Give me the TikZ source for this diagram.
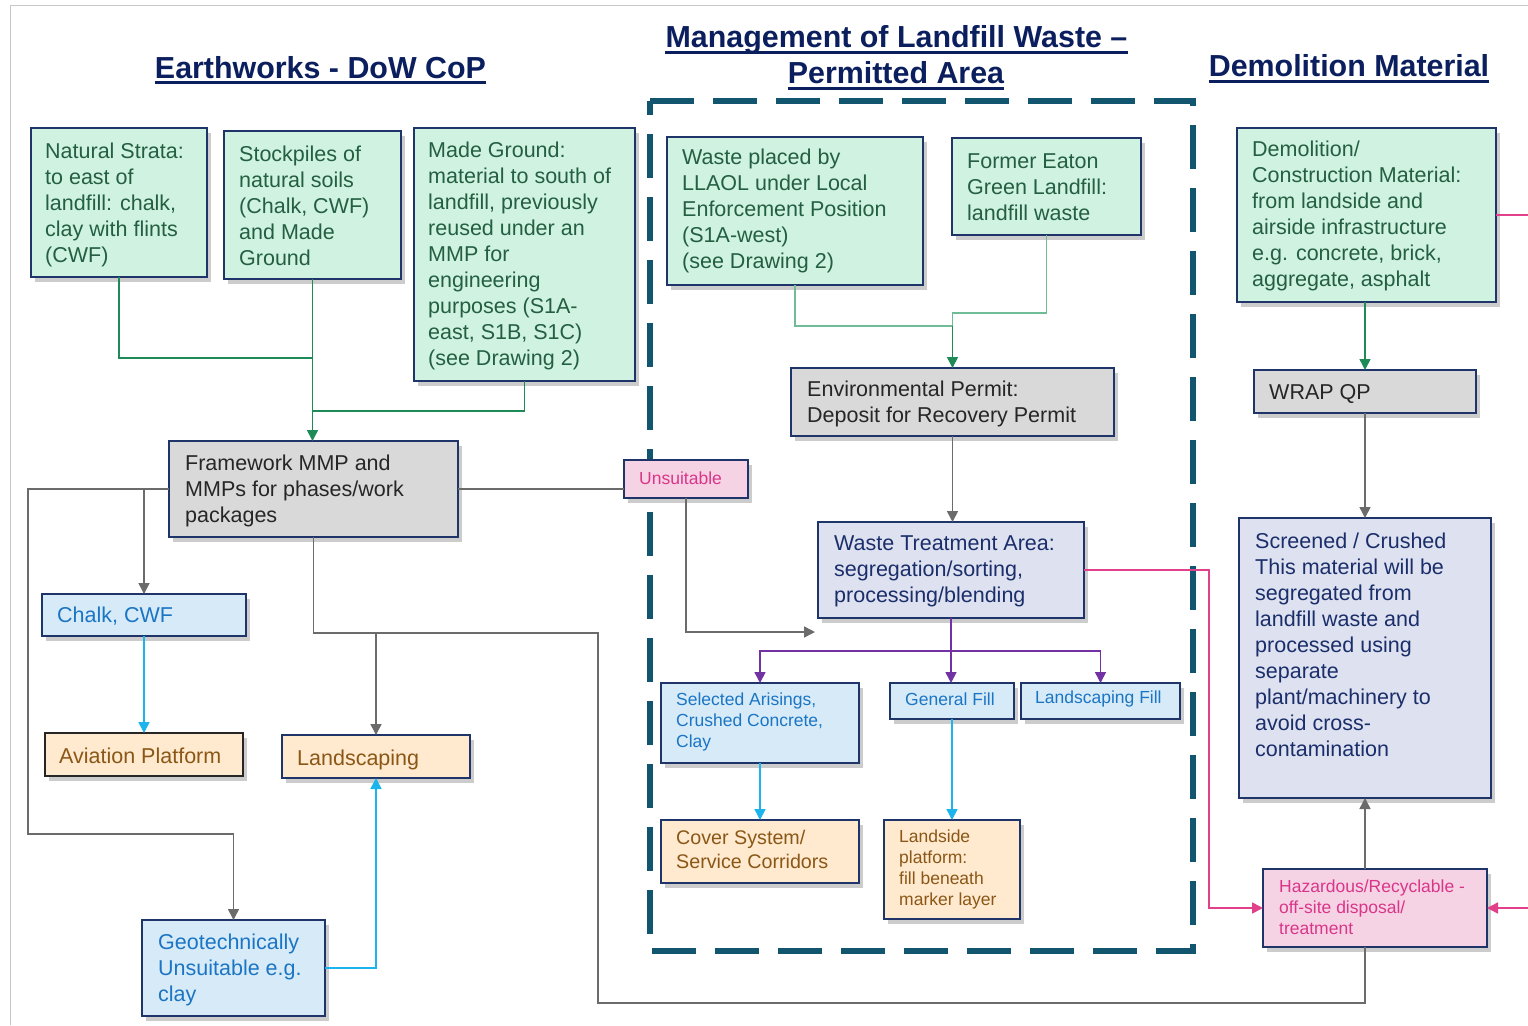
\documentclass[tikz,border=0pt]{standalone}
\usepackage{fontspec}
\setmainfont{Liberation Sans}
\usetikzlibrary{arrows.meta,shadows,calc}
\definecolor{navy}{HTML}{1F3468}
\definecolor{ttlc}{HTML}{0B1F5E}
\definecolor{gfill}{HTML}{CFF2E1}
\definecolor{gtext}{HTML}{245F42}
\definecolor{grfill}{HTML}{D9D9D9}
\definecolor{grtext}{HTML}{262626}
\definecolor{bfill}{HTML}{D6EBF7}
\definecolor{btext}{HTML}{1B75C4}
\definecolor{ofill}{HTML}{FFE9CF}
\definecolor{otext}{HTML}{8A5716}
\definecolor{lfill}{HTML}{DEE1F0}
\definecolor{ltext}{HTML}{1A2E6A}
\definecolor{pfill}{HTML}{F6D3E4}
\definecolor{ptext}{HTML}{D9368A}
\definecolor{dashc}{HTML}{11566E}
\definecolor{cgreen}{HTML}{1E8A58}
\definecolor{lgreen}{HTML}{6FBC97}
\definecolor{cgray}{HTML}{6B6B6B}
\definecolor{ccyan}{HTML}{1CB4EC}
\definecolor{cpurple}{HTML}{7232A3}
\definecolor{cpink}{HTML}{E0418A}
\tikzset{
  box/.style={draw=navy, line width=1.6pt, rectangle, anchor=north west, inner sep=0pt, outer sep=0pt,
    drop shadow={shadow xshift=4pt, shadow yshift=-5pt, fill=black, opacity=0.2}},
  gbox/.style={box, fill=gfill},
  grbox/.style={box, fill=grfill},
  bbox/.style={box, fill=bfill},
  obox/.style={box, fill=ofill},
  lbox/.style={box, fill=lfill},
  pbox/.style={box, fill=pfill},
  big/.style={font=\fontsize{21.5}{26}\selectfont, align=left, inner sep=0pt, anchor=west},
  mid/.style={font=\fontsize{19.7}{24}\selectfont, align=left, inner sep=0pt, anchor=west},
  small/.style={font=\fontsize{17.5}{21}\selectfont, align=left, inner sep=0pt, anchor=west},
  ttl/.style={font=\fontsize{30.4}{36}\selectfont\bfseries, text=ttlc, inner sep=0pt, anchor=base},
  con/.style={line width=1.6pt},
  tip/.style={-{Triangle[length=11pt,width=11pt]}},
  gcon/.style={con, draw=cgreen},
  lgcon/.style={con, draw=lgreen},
  gycon/.style={con, draw=cgray},
  cycon/.style={con, draw=ccyan},
  pucon/.style={con, draw=cpurple},
  pkcon/.style={con, draw=cpink},
}
\begin{document}
\begin{tikzpicture}[x=1pt,y=-1pt]
\useasboundingbox (0,0) rectangle (1528,1025);
\fill[white] (0,0) rectangle (1528,1025);
\draw[black!22, line width=1pt] (10,1025) -- (10,6) -- (1528,6);

% titles
\node[ttl] (t1) at (320.5,78) {Earthworks - DoW CoP};
\node[ttl] (t2a) at (896.5,48) {Management of Landfill Waste –};
\node[ttl] (t2b) at (896,84) {Permitted Area};
\node[ttl] (t3) at (1349,77) {Demolition Material};
\foreach \t in {t1,t2a,t2b,t3}
  \draw[ttlc, line width=2.6pt] ([yshift=-4.5pt]\t.base west) -- ([yshift=-4.5pt]\t.base east);

% dashed permitted area
\draw[dashc, line width=6pt, dash pattern=on 44pt off 19pt] (650,101) -- (1193,101) -- (1193,951) -- (650,951) -- cycle;

% boxes
\node[gbox, minimum width=176pt, minimum height=149pt] (ns) at (31,128) {};
\node[gbox, minimum width=177pt, minimum height=148pt] (sp) at (224,131) {};
\node[gbox, minimum width=221pt, minimum height=253pt] (mg) at (414,128) {};
\node[gbox, minimum width=256pt, minimum height=148pt] (wp) at (667,137) {};
\node[gbox, minimum width=189pt, minimum height=97pt] (fe) at (952,138) {};
\node[gbox, minimum width=259pt, minimum height=174pt] (dm) at (1237,128) {};
\node[grbox, minimum width=323pt, minimum height=68pt] (ep) at (791,368) {};
\node[grbox, minimum width=222pt, minimum height=43pt] (wr) at (1254,370) {};
\node[grbox, minimum width=289pt, minimum height=96pt] (fw) at (169,441) {};
\node[pbox, minimum width=124pt, minimum height=38pt] (un) at (624,460) {};
\node[lbox, minimum width=266pt, minimum height=96pt] (wt) at (818,522) {};
\node[lbox, minimum width=252pt, minimum height=280pt] (sc) at (1239,518) {};
\node[bbox, minimum width=204pt, minimum height=42pt] (ck) at (42,594) {};
\node[obox, draw=black!85, minimum width=198pt, minimum height=43pt] (av) at (45,733) {};
\node[obox, minimum width=188pt, minimum height=43pt] (ls) at (282,735) {};
\node[bbox, minimum width=198pt, minimum height=80pt] (sa) at (661,683) {};
\node[bbox, minimum width=124pt, minimum height=36pt] (gf) at (890,683) {};
\node[bbox, minimum width=159pt, minimum height=36pt] (lf) at (1021,683) {};
\node[obox, minimum width=198pt, minimum height=63pt] (cv) at (661,820) {};
\node[obox, minimum width=136pt, minimum height=99pt] (lp) at (884,820) {};
\node[bbox, minimum width=183pt, minimum height=96pt] (geo) at (142,920) {};
\node[pbox, minimum width=224pt, minimum height=78pt] (hz) at (1263,869) {};

% texts
\node[big, text=gtext] (nst) at ($(ns.west)+(14,2)$) {Natural Strata:\\to east of\\landfill: chalk,\\clay with flints\\(CWF)};
\node[big, text=gtext] (spt) at ($(sp.west)+(15,1)$) {Stockpiles of\\natural soils\\(Chalk, CWF)\\and Made\\Ground};
\node[big, text=gtext] (mgt) at ($(mg.west)+(14,1)$) {Made Ground:\\material to south of\\landfill, previously\\reused under an\\MMP for\\engineering\\purposes (S1A-\\east, S1B, S1C)\\(see Drawing 2)};
\node[big, text=gtext] (wpt) at ($(wp.west)+(15,0)$) {Waste placed by\\LLAOL under Local\\Enforcement Position\\(S1A-west)\\(see Drawing 2)};
\node[big, text=gtext] (fet) at ($(fe.west)+(15,1)$) {Former Eaton\\Green Landfill:\\landfill waste};
\node[big, text=gtext] (dmt) at ($(dm.west)+(15,1)$) {Demolition/\\Construction Material:\\from landside and\\airside infrastructure\\e.g. concrete, brick,\\aggregate, asphalt};
\node[big, text=grtext] (ept) at ($(ep.west)+(16,2)$) {Environmental Permit:\\Deposit for Recovery Permit};
\node[big, text=grtext] (wrt) at ($(wr.west)+(15,3)$) {WRAP QP};
\node[big, text=grtext] (fwt) at ($(fw.west)+(16,1.5)$) {Framework MMP and\\MMPs for phases/work\\packages};
\node[small, text=ptext] (unt) at ($(un.west)+(15,-1)$) {Unsuitable};
\node[big, text=ltext] (wtt) at ($(wt.west)+(16,1)$) {Waste Treatment Area:\\segregation/sorting,\\processing/blending};
\node[big, text=ltext, anchor=north west] (sct) at ($(sc.north west)+(16,15)$) {Screened / Crushed\\This material will be\\segregated from\\landfill waste and\\processed using\\separate\\plant/machinery to\\avoid cross-\\contamination};
\node[big, text=btext] (ckt) at ($(ck.west)+(15,1)$) {Chalk, CWF};
\node[big, text=otext] (avt) at ($(av.west)+(14,1)$) {Aviation Platform};
\node[big, text=otext] (lst) at ($(ls.west)+(15,3)$) {Landscaping};
\node[small, text=btext] (sat) at ($(sa.west)+(15,-1)$) {Selected Arisings,\\Crushed Concrete,\\Clay};
\node[small, text=btext] (gft) at ($(gf.west)+(15,-2)$) {General Fill};
\node[small, text=btext] (lft) at ($(lf.west)+(14,-2)$) {Landscaping Fill};
\node[mid, text=otext] (cvt) at ($(cv.west)+(15,-2)$) {Cover System/\\Service Corridors};
\node[small, text=otext] (lpt) at ($(lp.west)+(15,0)$) {Landside\\platform:\\fill beneath\\marker layer};
\node[big, text=btext] (geot) at ($(geo.west)+(16,1.5)$) {Geotechnically\\Unsuitable e.g.\\clay};
\node[small, text=ptext] (hzt) at ($(hz.west)+(16,-1)$) {Hazardous/Recyclable -\\off-site disposal/\\treatment};

% junction coordinates
\coordinate (j1) at (313,358);
\coordinate (j2) at (313,411);
\coordinate (j3) at ($(ep.north)+(0,-42)$);
\coordinate (j4) at ($(ep.north)+(0,-55)$);
\coordinate (f2) at (28,834);
\coordinate (f3) at (313.5,633);
\coordinate (f4) at (598,633);
\coordinate (f5) at (598,1003);
\coordinate (f6) at (1365,1003);
\coordinate (f7) at (376,633);
\coordinate (u2) at (815,632);
\coordinate (p1) at (951,651);
\coordinate (k2) at (1209,908);
\coordinate (r1) at (1528,215);
\coordinate (r2) at (1528,908);

% green connectors
\draw[gcon] (ns.south) |- (j1);
\draw[gcon] (mg.south) |- (j2);
\draw[gcon, tip] (sp.south) -- (sp.south |- fw.north);
\draw[lgcon] (wp.south) |- (j3);
\draw[lgcon] (fe.south) |- (j4) -- (j3);
\draw[gcon, tip] (j3) -- (ep.north);
\draw[gcon, tip] (dm.south -| wr.north) -- (wr.north);

% gray connectors
\draw[gycon, tip] (fw.west) -- (fw.west -| f2) -- (f2) -| (geo.north);
\draw[gycon, tip] (ck.north |- fw.west) -- (ck.north);
\draw[gycon] (fw.east) -- (fw.east -| un.west);
\draw[gycon, tip] (un.south) -- (un.south |- u2) -- (u2);
\draw[gycon] (fw.south) -- (f3) -- (f4) -- (f5) -- (f6) -- (f6 |- hz.south);
\draw[gycon, tip] (f7) -- (ls.north);
\draw[gycon, tip] (f6 |- hz.north) -- (sc.south);
\draw[gycon, tip] (ep.south) -- (ep.south |- wt.north);
\draw[gycon, tip] (wr.south) -- (wr.south |- sc.north);

% cyan connectors
\draw[cycon, tip] (ck.south) -- (ck.south |- av.north);
\draw[cycon, tip] (geo.east) -| (ls.south);
\draw[cycon, tip] (sa.south) -- (cv.north);
\draw[cycon, tip] (gf.south) -- (gf.south |- lp.north);

% purple connectors
\draw[pucon] (wt.south) -- (wt.south |- p1);
\draw[pucon, tip] (wt.south |- p1) -| (sa.north);
\draw[pucon, tip] (wt.south |- p1) -| (lf.north);
\draw[pucon, tip] (wt.south |- p1) -- (wt.south |- gf.north);

% pink connectors
\draw[pkcon, tip] (wt.east) -- (wt.east -| k2) -- (k2 |- hz.west) -- (hz.west);
\draw[pkcon] (dm.east) -- (dm.east -| r1);
\draw[pkcon, tip] (hz.east -| r2) -- (hz.east);
\end{tikzpicture}
\end{document}
